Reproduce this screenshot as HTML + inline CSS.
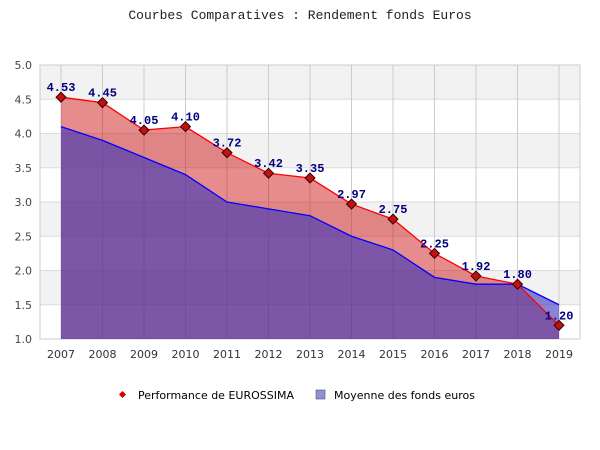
<!DOCTYPE html>
<html><head><meta charset="utf-8"><style>
body{margin:0;background:#fff;width:600px;height:450px;overflow:hidden}
svg{display:block}
</style></head><body>
<svg id="chart" width="600" height="450" xmlns="http://www.w3.org/2000/svg">
<text x="300" y="19" text-anchor="middle" font-family="Liberation Mono, monospace" font-size="13" fill="#222">Courbes Comparatives : Rendement fonds Euros</text>
<g id="plot"></g>
<g>
<rect x="120" y="392" width="5" height="5" transform="rotate(45 122.5 394.5)" fill="#c00"/>
<text x="138" y="399" font-family="DejaVu Sans, sans-serif" font-size="11" fill="#000">Performance de EUROSSIMA</text>
<rect x="316" y="390" width="9" height="9" fill="#9090d8" stroke="#555" stroke-width="0.6"/>
<text x="334" y="399" font-family="DejaVu Sans, sans-serif" font-size="11" fill="#000">Moyenne des fonds euros</text>
</g>
</svg>
<script>
const years=["2007","2008","2009","2010","2011","2012","2013","2014","2015","2016","2017","2018","2019"];
const eurossima=[4.53,4.45,4.05,4.10,3.72,3.42,3.35,2.97,2.75,2.25,1.92,1.80,1.20];
const moyenne=[4.10,3.90,3.65,3.40,3.00,2.90,2.80,2.50,2.30,1.90,1.80,1.80,1.50];
const yTicks=[1.0,1.5,2.0,2.5,3.0,3.5,4.0,4.5,5.0];
const NS="http://www.w3.org/2000/svg";
const L=40,R=580,T=65,B=339,yMin=1,yMax=5;
const x=i=>61+i*(559-61)/(years.length-1);
const y=v=>B-(v-yMin)/(yMax-yMin)*(B-T);
const g=document.getElementById('plot');
function mk(tag,a){const e=document.createElementNS(NS,tag);for(const k in a)e.setAttribute(k,a[k]);g.appendChild(e);return e;}
for(let k=0;k<yTicks.length-1;k++){
  const r=mk('rect',{x:L,y:y(yTicks[k+1]),width:R-L,height:y(yTicks[k])-y(yTicks[k+1]),fill:(k%2===1)?'#f2f2f2':'#fff'});
  
  
}
yTicks.forEach(v=>{
  const l=mk('line',{x1:L,x2:R,y1:y(v),y2:y(v),stroke:'#dcdcdc','stroke-width':1});
  
  
  const t=mk('text',{x:L-8,y:y(v)+4,'text-anchor':'end','font-family':'DejaVu Sans, sans-serif','font-size':11,fill:'#444'});
  t.textContent=v.toFixed(1);
  
  
});
years.forEach((yr,i)=>{
  const l=mk('line',{x1:x(i),x2:x(i),y1:T,y2:B,stroke:'#ccc','stroke-width':1});
  
  
  const t=mk('text',{x:x(i),y:B+19,'text-anchor':'middle','font-family':'DejaVu Sans, sans-serif','font-size':11,fill:'#333'});
  t.textContent=yr;
  
  
});
const ax=mk('rect',{x:L,y:T,width:R-L,height:B-T,fill:'none',stroke:'#ccc'});


function area(vals,fill,name){
  let d='M'+x(0)+','+B;
  vals.forEach((v,i)=>d+=' L'+x(i)+','+y(v));
  d+=' L'+x(vals.length-1)+','+B+' Z';
  const p=mk('path',{d:d,fill:fill});
  
  
}
function line(vals,col,name){
  const p=mk('polyline',{points:vals.map((v,i)=>x(i)+','+y(v)).join(' '),fill:'none',stroke:col,'stroke-width':1.3});
  
  
}
area(eurossima,'rgba(200,0,0,0.45)','eurossima-area');
area(moyenne,'rgba(57,50,186,0.6)','moyenne-area');
line(moyenne,'#0000ff','moyenne-line');
line(eurossima,'#ff0000','eurossima-line');
eurossima.forEach((v,i)=>{
  const m=mk('rect',{x:x(i)-3.5,y:y(v)-3.5,width:7,height:7,fill:'#c41010',stroke:'#300',transform:'rotate(45 '+x(i)+' '+y(v)+')'});
  
  
  const t=mk('text',{x:x(i),y:y(v)-6,'text-anchor':'middle','font-family':'Liberation Mono, monospace','font-size':12,'font-weight':'bold',fill:'#00007f'});
  t.textContent=v.toFixed(2);
  
  
});
</script>
</body></html>
